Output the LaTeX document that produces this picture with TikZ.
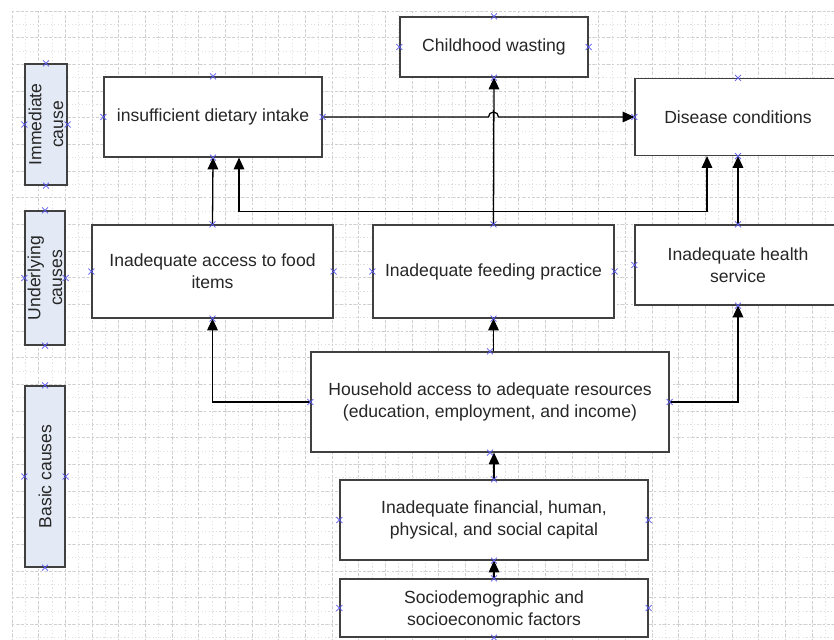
\documentclass[tikz,border=0pt]{standalone}
\usepackage{fontspec}
\setmainfont{Liberation Sans}
\usetikzlibrary{arrows.meta,shapes.misc,calc}
\definecolor{laneblue}{HTML}{E4EAF5}
\definecolor{boxgray}{HTML}{404040}
\definecolor{cpblue}{HTML}{5A5AF0}

\begin{document}
\begin{tikzpicture}[
    x=0.03cm, y=-0.03cm, % one unit is one pixel of the sheet, y runs downwards
    font=\fontsize{15}{18.5}\selectfont,
    box/.style={rectangle, draw=boxgray, line width=1pt, fill=white, align=center, text=black!85, inner sep=2pt}, % cause boxes
    lane/.style={box, fill=laneblue, rotate=90, inner sep=0pt}, % level labels on the left
    arr/.style={-{Triangle[length=10pt,width=9pt]}, line width=1.1pt}, % connectors
    cp/.style={cross out, draw=cpblue, line width=0.6pt, minimum size=4.5pt, inner sep=0pt} % connection points
]
    \useasboundingbox (0,0) rectangle (834,640);
    \clip (0,0) rectangle (834,640);

    % Grid of the sheet
    \foreach \i in {0,...,61} {
        \draw[gray!25, line width=0.4pt, dash pattern=on 1pt off 2pt] ({12+13.333*\i},11) -- ({12+13.333*\i},640);
    }
    \foreach \i in {0,...,47} {
        \draw[gray!25, line width=0.4pt, dash pattern=on 1pt off 2pt] (12,{11+13.333*\i}) -- (834,{11+13.333*\i});
    }
    \foreach \i in {0,...,30} {
        \draw[gray!38, line width=0.4pt, dash pattern=on 2pt off 2pt] ({12+26.667*\i},11) -- ({12+26.667*\i},640);
    }
    \foreach \i in {0,...,23} {
        \draw[gray!38, line width=0.4pt, dash pattern=on 2pt off 2pt] (12,{11+26.667*\i}) -- (834,{11+26.667*\i});
    }

    % Level labels
    \node[lane, minimum width=3.63cm, minimum height=1.26cm] (immlane) at (46,124.5) {Immediate\\cause};
    \node[lane, minimum width=4.02cm, minimum height=1.2cm] (undlane) at (45,278) {Underlying\\causes};
    \node[lane, minimum width=5.43cm, minimum height=1.2cm] (baslane) at (45,476.5) {Basic causes};

    % Outcome and immediate causes
    \node[box, minimum width=5.64cm, minimum height=1.8cm] (waste) at (494,47) {Childhood wasting};
    \node[box, minimum width=6.54cm, minimum height=2.4cm] (diet) at (213,117) {insufficient dietary intake};
    \node[box, minimum width=6.18cm, minimum height=2.31cm] (disease) at (738,117) {Disease conditions};

    % Underlying causes
    \node[box, minimum width=7.23cm, minimum height=2.79cm] (food) at (212.5,271.5) {Inadequate access to food\\items};
    \node[box, minimum width=7.23cm, minimum height=2.79cm] (feed) at (493.5,271.5) {Inadequate feeding practice};
    \node[box, minimum width=6.18cm, minimum height=2.4cm] (health) at (738,265) {Inadequate health\\service};

    % Basic causes
    \node[box, minimum width=10.74cm, minimum height=3cm] (house) at (490,402) {Household access to adequate resources\\(education, employment, and income)};
    \node[box, minimum width=9.24cm, minimum height=2.4cm] (capital) at (494,520) {Inadequate financial, human,\\physical, and social capital};
    \node[box, minimum width=9.24cm, minimum height=1.74cm] (socio) at (494,608) {Sociodemographic and\\socioeconomic factors};

    % Connectors
    \draw[arr] (diet.east) -- ($(diet.east -| feed.north)+(-5,0)$) arc[start angle=180, end angle=0, radius=0.15cm] -- (disease.west); % hops over the wasting line
    \draw[arr] (feed.north) -- (waste.south);
    \coordinate (split) at ($(feed.north)+(0,-13)$);
    \draw[arr] (split) -| ($(diet.south)+(26,0)$);
    \draw[arr] (split) -| ($(disease.south)+(-31,0)$);
    \draw[arr] (food.north) -- (diet.south);
    \draw[arr] (health.north) -- (disease.south);
    \draw[arr] (house.west) -| (food.south);
    \draw[arr] (house.north -| feed.south) -- (feed.south);
    \draw[arr] (house.east) -| (health.south);
    \draw[arr] (capital.north) -- (capital.north |- house.south);
    \draw[arr] (socio.north) -- (capital.south);

    % Connection points
    \foreach \n in {waste,diet,disease,food,feed,health,house,capital,socio,immlane,undlane,baslane}
        \foreach \a in {north,south,east,west}
            \node[cp] at (\n.\a) {};
\end{tikzpicture}
\end{document}
